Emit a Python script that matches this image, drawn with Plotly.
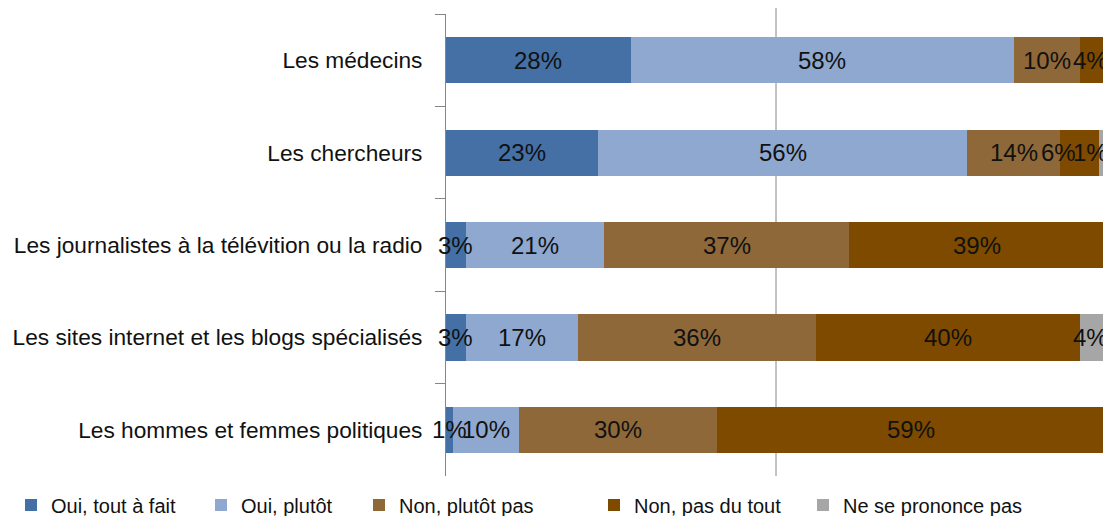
import plotly.graph_objects as go

categories = [
    "Les médecins",
    "Les chercheurs",
    "Les journalistes à la télévition ou la radio",
    "Les sites internet et les blogs spécialisés",
    "Les hommes et femmes politiques",
]
series_names = ["Oui, tout à fait", "Oui, plutôt", "Non, plutôt pas", "Non, pas du tout", "Ne se prononce pas"]
oui_tout_a_fait = [28, 23, 3, 3, 1]
oui_plutot = [58, 56, 21, 17, 10]
non_plutot_pas = [10, 14, 37, 36, 30]
non_pas_du_tout = [4, 6, 39, 40, 59]
ne_se_prononce_pas = [0, 1, 0, 4, 0]
series_values = [oui_tout_a_fait, oui_plutot, non_plutot_pas, non_pas_du_tout, ne_se_prononce_pas]
colors = ["#4470A6", "#8EA8D0", "#8E6838", "#7E4A00", "#A6A6A6"]

FONT = "Liberation Sans, Arial, sans-serif"
W, H = 1103, 508
ML, MR = 438, 5
PLOT_W = W - ML - MR
LABEL_SIZE = 24
legend_left_px = [3, 193, 351, 586, 795]


def label_width(txt):
    # approximate ink width in data units (Liberation Sans metrics)
    px = sum(0.82 if c == "%" else 0.53 for c in txt) * LABEL_SIZE
    return px / PLOT_W


fig = go.Figure()
labels_per_cat = [[] for _ in categories]
cum = [0.0] * len(categories)
for i, (name, vals, col) in enumerate(zip(series_names, series_values, colors)):
    lg = "legend" if i == 0 else f"legend{i + 1}"
    xs = [v / 100 for v in vals]
    fig.add_trace(go.Bar(
        y=categories,
        x=xs,
        name=name,
        orientation="h",
        marker=dict(color=col, line=dict(width=0)),
        textposition="none",
        legend=lg,
    ))
    for j, v in enumerate(vals):
        if v > 0:
            labels_per_cat[j].append([cum[j] + xs[j] / 2, f"{v}%"])
        cum[j] += xs[j]

# keep labels inside the chart area on the right, pushing neighbours left
right_limit = 1 + 1 / PLOT_W
annotations = []
for j, labs in enumerate(labels_per_cat):
    limit = right_limit
    moved = True
    for lab in reversed(labs):
        w = label_width(lab[1])
        if moved and lab[0] + w / 2 > limit:
            lab[0] = limit - w / 2
            moved = True
        else:
            moved = False
        limit = lab[0] - w / 2
    for xc, txt in labs:
        annotations.append(dict(
            x=xc, y=categories[j], xref="x", yref="y",
            text=txt, showarrow=False,
            font=dict(family=FONT, size=LABEL_SIZE, color="#111111"),
            xanchor="center", yanchor="middle",
        ))

legends = {}
for i, lx in enumerate(legend_left_px):
    key = "legend" if i == 0 else f"legend{i + 1}"
    legends[key] = dict(
        orientation="h",
        xref="container", yref="container",
        x=lx / W, y=(H - 497) / H, xanchor="left", yanchor="middle",
        font=dict(family=FONT, size=20, color="#111111"),
        bgcolor="rgba(0,0,0,0)",
        itemwidth=30,
    )

fig.update_layout(
    barmode="stack",
    bargap=0.5,
    width=W,
    height=H,
    margin=dict(l=ML, r=MR, t=6, b=40, autoexpand=False),
    paper_bgcolor="white",
    plot_bgcolor="white",
    font=dict(family=FONT, size=22.7, color="#111111"),
    showlegend=True,
    annotations=annotations,
    xaxis=dict(
        range=[0, 1],
        showticklabels=False,
        showgrid=False,
        zeroline=False,
        showline=False,
        ticks="",
        automargin=False,
    ),
    yaxis=dict(
        autorange="reversed",
        automargin=False,
        showline=True,
        linecolor="#868686",
        linewidth=1,
        ticks="outside",
        tickson="boundaries",
        ticklen=10,
        tickcolor="#868686",
        showgrid=False,
        tickfont=dict(family=FONT, size=22.7, color="#111111"),
        ticklabelstandoff=18,
    ),
    **legends,
)

for xv in [0.5, 1.0]:
    fig.add_shape(type="line", xref="x", yref="paper", x0=xv, x1=xv, y0=0, y1=1.013,
                  line=dict(color="#868686", width=1), layer="below")

fig.write_html("out.html")
